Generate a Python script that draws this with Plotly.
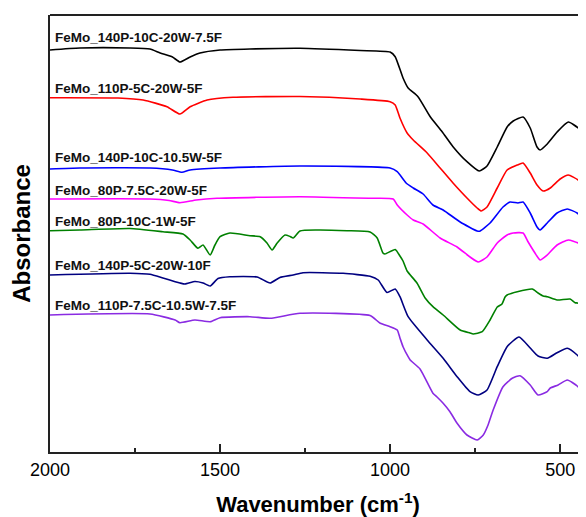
import plotly.graph_objects as go

# Sample names (top to bottom)
names = [
    "FeMo_140P-10C-20W-7.5F",
    "FeMo_110P-5C-20W-5F",
    "FeMo_140P-10C-10.5W-5F",
    "FeMo_80P-7.5C-20W-5F",
    "FeMo_80P-10C-1W-5F",
    "FeMo_140P-5C-20W-10F",
    "FeMo_110P-7.5C-10.5W-7.5F",
]
colors = ["#000000", "#ff0000", "#0000ff", "#ff00ff", "#008000", "#000080", "#8a2be2"]

# Wavenumber (cm-1) and absorbance (a.u., stacked) for each spectrum
wn_black = [2000, 1912, 1765, 1706, 1676, 1640, 1618, 1588, 1559, 1500, 1412, 1265, 1088, 1000, 985, 962, 947, 918, 882, 847, 815, 774, 738, 715, 685, 656, 638, 609, 588, 568, 559, 538, 509, 476, 447, 424]
ab_black = [4.02, 4.04, 4.04, 4.03, 3.99, 3.95, 3.90, 3.95, 3.99, 4.02, 4.03, 4.037, 4.015, 4.00, 3.953, 3.74, 3.64, 3.553, 3.353, 3.203, 3.053, 2.903, 2.81, 2.86, 3.05, 3.25, 3.31, 3.35, 3.24, 3.05, 3.02, 3.08, 3.20, 3.30, 3.24, 3.15]

wn_red = [2000, 1800, 1726, 1656, 1618, 1588, 1538, 1462, 1265, 1088, 1000, 985, 971, 950, 932, 891, 853, 815, 774, 744, 732, 715, 685, 656, 626, 609, 588, 568, 550, 529, 500, 476, 447, 424]
ab_red = [3.543, 3.54, 3.52, 3.453, 3.38, 3.453, 3.52, 3.547, 3.555, 3.53, 3.503, 3.47, 3.34, 3.19, 3.12, 2.99, 2.84, 2.69, 2.54, 2.44, 2.41, 2.45, 2.64, 2.82, 2.87, 2.89, 2.79, 2.67, 2.61, 2.64, 2.73, 2.77, 2.72, 2.64]

wn_blue = [2000, 1912, 1706, 1640, 1612, 1588, 1500, 1265, 1000, 979, 953, 932, 903, 874, 844, 794, 744, 735, 706, 668, 647, 624, 609, 588, 568, 559, 538, 509, 479, 450, 424]
ab_blue = [2.83, 2.84, 2.84, 2.82, 2.797, 2.82, 2.84, 2.86, 2.84, 2.803, 2.69, 2.64, 2.58, 2.47, 2.42, 2.30, 2.21, 2.21, 2.29, 2.45, 2.50, 2.49, 2.50, 2.39, 2.25, 2.22, 2.29, 2.39, 2.43, 2.39, 2.30]

wn_mag = [2000, 1706, 1650, 1618, 1570, 1509, 1265, 1059, 991, 979, 950, 932, 903, 853, 803, 765, 741, 715, 685, 656, 638, 609, 594, 574, 559, 538, 509, 476, 447, 424]
ab_mag = [2.53, 2.53, 2.515, 2.493, 2.52, 2.537, 2.553, 2.537, 2.53, 2.47, 2.37, 2.32, 2.28, 2.14, 2.05, 1.95, 1.90, 1.95, 2.09, 2.17, 2.19, 2.19, 2.10, 1.99, 1.92, 1.97, 2.07, 2.12, 2.09, 2.02]

wn_green = [2000, 1912, 1765, 1668, 1609, 1588, 1565, 1550, 1529, 1515, 1500, 1471, 1412, 1382, 1362, 1347, 1332, 1309, 1294, 1285, 1265, 1215, 1126, 1059, 1038, 1021, 1015, 985, 971, 962, 950, 921, 897, 874, 844, 794, 765, 756, 729, 706, 685, 671, 662, 656, 626, 582, 565, 550, 538, 509, 471, 456, 450, 424]
ab_green = [2.213, 2.22, 2.235, 2.203, 2.18, 2.12, 2.037, 2.07, 1.97, 2.07, 2.153, 2.19, 2.163, 2.153, 2.09, 2.02, 2.09, 2.17, 2.155, 2.14, 2.21, 2.22, 2.213, 2.20, 2.14, 1.99, 1.98, 2.025, 1.96, 1.91, 1.81, 1.69, 1.54, 1.453, 1.37, 1.22, 1.19, 1.18, 1.203, 1.32, 1.45, 1.48, 1.55, 1.57, 1.603, 1.63, 1.59, 1.56, 1.553, 1.52, 1.53, 1.493, 1.49, 1.47]

wn_navy = [2000, 1765, 1706, 1668, 1632, 1618, 1603, 1574, 1550, 1529, 1506, 1471, 1391, 1353, 1324, 1285, 1256, 1138, 1059, 1035, 1009, 985, 971, 947, 891, 844, 803, 765, 741, 715, 685, 656, 621, 588, 565, 538, 509, 479, 450, 424]
ab_navy = [1.77, 1.787, 1.777, 1.74, 1.703, 1.69, 1.68, 1.705, 1.69, 1.66, 1.735, 1.753, 1.75, 1.69, 1.745, 1.77, 1.793, 1.787, 1.757, 1.72, 1.595, 1.63, 1.553, 1.353, 1.12, 0.937, 0.753, 0.603, 0.57, 0.62, 0.853, 1.053, 1.15, 1.04, 0.96, 0.937, 0.993, 1.037, 0.97, 0.87]

wn_purple = [2000, 1706, 1632, 1618, 1574, 1529, 1500, 1412, 1353, 1265, 1059, 1029, 1000, 979, 971, 962, 947, 941, 912, 874, 862, 844, 824, 803, 774, 744, 726, 712, 697, 668, 641, 618, 588, 565, 538, 529, 506, 479, 450, 424]
ab_purple = [1.37, 1.38, 1.32, 1.293, 1.32, 1.303, 1.343, 1.353, 1.337, 1.387, 1.365, 1.287, 1.253, 1.22, 1.14, 1.053, 0.953, 0.92, 0.83, 0.587, 0.55, 0.487, 0.403, 0.287, 0.17, 0.12, 0.17, 0.27, 0.42, 0.653, 0.737, 0.763, 0.67, 0.57, 0.603, 0.64, 0.67, 0.72, 0.66, 0.545]

# Label positions (wavenumber, absorbance)
label_x = 1990
label_y = [4.15, 3.64, 2.95, 2.62, 2.31, 1.87, 1.47]

x_tickvals = [2000, 1500, 1000, 500]
x_ticktext = ["2000", "1500", "1000", "500"]
x_minor = [1750, 1250, 750]

series = [
    (wn_black, ab_black), (wn_red, ab_red), (wn_blue, ab_blue), (wn_mag, ab_mag),
    (wn_green, ab_green), (wn_navy, ab_navy), (wn_purple, ab_purple),
]

FONT = "Arial, Liberation Sans, sans-serif"

fig = go.Figure()
for (wx, ay), name, c in zip(series, names, colors):
    fig.add_trace(go.Scatter(
        x=wx, y=ay, mode="lines", name=name,
        line=dict(color=c, width=1.6, shape="spline", smoothing=0.5),
        showlegend=False, hoverinfo="skip",
    ))

for name, ly in zip(names, label_y):
    fig.add_annotation(
        x=label_x, y=ly, xref="x", yref="y", text="<b>" + name + "</b>",
        showarrow=False, xanchor="left", yanchor="middle",
        font=dict(family=FONT, size=13.5, color="#111"),
    )

fig.add_shape(type="line", xref="paper", yref="paper", x0=0, x1=1, y0=1, y1=1,
              line=dict(color="#222", width=2))

# The page body adds an 8px offset, so the figure is sized to fit the window.
fig.update_layout(
    width=578, height=509,
    margin=dict(l=42, r=0, t=7, b=65),
    paper_bgcolor="white", plot_bgcolor="white",
    font=dict(family=FONT, color="#000"),
    xaxis=dict(
        range=[2000, 424], tickvals=x_tickvals, ticktext=x_ticktext, automargin=False,
        ticks="inside", ticklen=8, tickwidth=1.5, tickcolor="#222",
        showline=True, linecolor="#222", linewidth=2, showgrid=False, zeroline=False,
        tickfont=dict(family=FONT, size=18, color="#000"),
        minor=dict(tickvals=x_minor, ticks="inside", ticklen=4, tickwidth=1.5, tickcolor="#222"),
        title=dict(text="<b>Wavenumber (cm<sup>-1</sup>)</b>", font=dict(family=FONT, size=22, color="#000"), standoff=20),
    ),
    yaxis=dict(
        range=[0, 4.37], showticklabels=False, ticks="", showgrid=False, zeroline=False,
        showline=True, linecolor="#222", linewidth=2, automargin=False,
        title=dict(text="<b>Absorbance</b>", font=dict(family=FONT, size=24, color="#000"), standoff=11),
    ),
)

fig.write_html("out.html")
